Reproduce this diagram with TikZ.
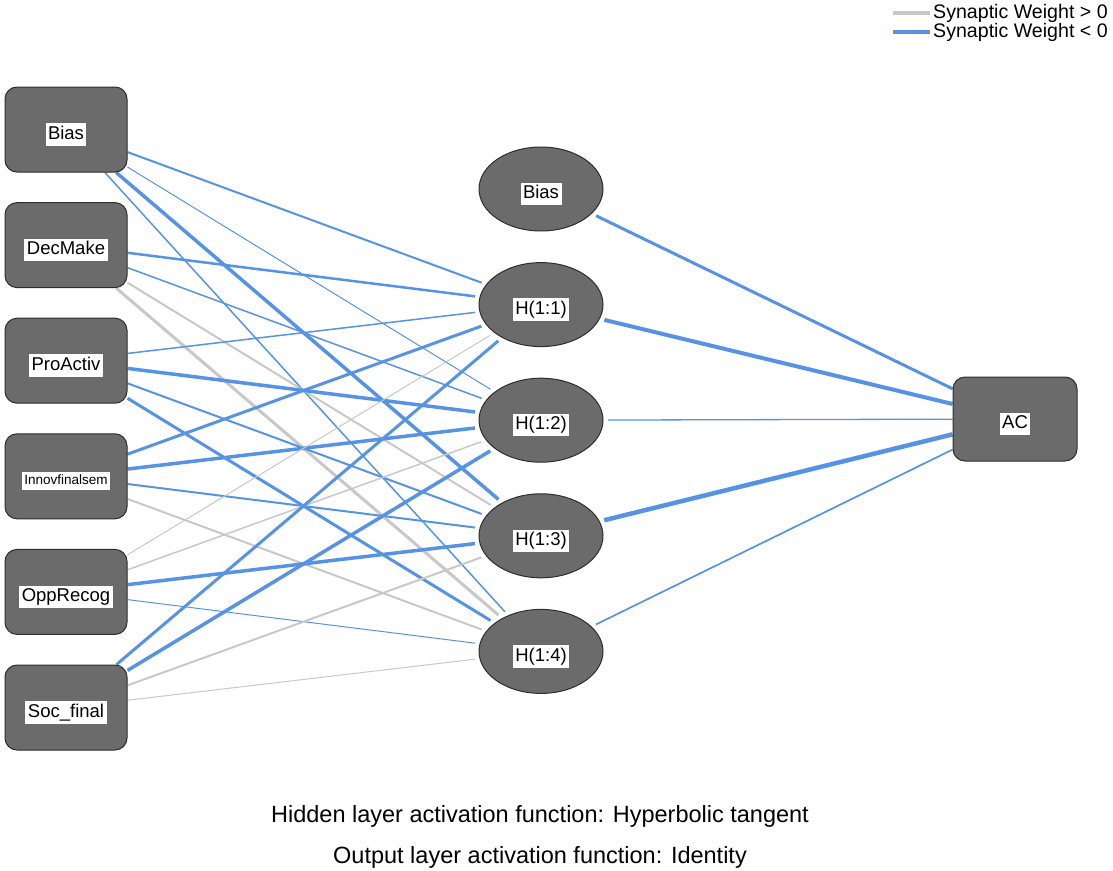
\documentclass[tikz,border=0pt]{standalone}
\usepackage{fontspec}
\setmainfont{Liberation Sans}
\usetikzlibrary{shapes.geometric,backgrounds}

\definecolor{nodefill}{RGB}{107,107,107}
\definecolor{nodeedge}{RGB}{45,45,45}
\definecolor{weightpos}{RGB}{200,200,200}
\definecolor{weightneg}{RGB}{86,147,228}

% white tag around every unit name, balanced around the capitals
\newcommand\unittag[1]{{\setlength{\fboxsep}{2.5pt}\colorbox{white}{\rule[-0.22em]{0pt}{0.94em}#1}}}

\tikzset{
  unitfont/.style={font=\fontsize{18.5}{21}\selectfont, text height=25.9pt, text depth=6.6pt},
  inbox/.style={draw=nodeedge, line width=1pt, fill=nodefill, rounded corners=12pt,
    minimum width=122pt, minimum height=85pt, inner sep=0pt, unitfont},
  hidunit/.style={ellipse, draw=nodeedge, line width=1pt, fill=nodefill,
    minimum width=124pt, minimum height=84pt, inner sep=0pt,
    outer xsep=5pt, outer ysep=5pt, unitfont},
  outbox/.style={inbox, minimum width=124pt, minimum height=84pt},
  posw/.style={draw=weightpos, line width=#1},
  negw/.style={draw=weightneg, line width=#1},
  legendtext/.style={anchor=west, inner sep=0pt, font=\fontsize{19.6}{22}\selectfont},
  notetext/.style={inner sep=0pt, font=\fontsize{23.5}{28}\selectfont},
}

\begin{document}
\begin{tikzpicture}[x=1pt,y=-1pt]
\useasboundingbox (0,0) rectangle (1113,870);

% input layer
\node[inbox] (i0) at (66,129.5) {\unittag{Bias}};
\node[inbox] (i1) at (66,245.1) {\unittag{DecMake}};
\node[inbox] (i2) at (66,360.7) {\unittag{ProActiv}};
\node[inbox, text height=21.2pt, text depth=5.5pt] (i3) at (66,476.3)
  {\fontsize{13.5}{15}\selectfont\unittag{Innovfinalsem}};
\node[inbox] (i4) at (66,591.9) {\unittag{OppRecog}};
\node[inbox] (i5) at (66,707.5) {\unittag{Soc\_final}};

% hidden layer
\node[hidunit] (hb) at (541,189.0) {\unittag{Bias}};
\node[hidunit] (h1) at (541,304.6) {\unittag{H(1:1)}};
\node[hidunit] (h2) at (541,420.2) {\unittag{H(1:2)}};
\node[hidunit] (h3) at (541,535.8) {\unittag{H(1:3)}};
\node[hidunit] (h4) at (541,651.4) {\unittag{H(1:4)}};

% output layer
\node[outbox] (ac) at (1015,419) {\unittag{AC}};

% synaptic weights
\begin{pgfonlayer}{background}
  \draw[negw=2]   (i0) -- (h1);
  \draw[negw=1]   (i0) -- (h2);
  \draw[negw=3.5] (i0) -- (h3);
  \draw[negw=1.5] (i0) -- (h4);

  \draw[negw=2.5] (i1) -- (h1);
  \draw[negw=1.5] (i1) -- (h2);
  \draw[posw=2]   (i1) -- (h3);
  \draw[posw=3]   (i1) -- (h4);

  \draw[negw=1.5] (i2) -- (h1);
  \draw[negw=3.5] (i2) -- (h2);
  \draw[negw=2]   (i2) -- (h3);
  \draw[negw=3]   (i2) -- (h4);

  \draw[negw=3]   (i3) -- (h1);
  \draw[negw=3.5] (i3) -- (h2);
  \draw[negw=2]   (i3) -- (h3);
  \draw[posw=2]   (i3) -- (h4);

  \draw[posw=1]   (i4) -- (h1);
  \draw[posw=1.5] (i4) -- (h2);
  \draw[negw=3.5] (i4) -- (h3);
  \draw[negw=1]   (i4) -- (h4);

  \draw[negw=3]   (i5) -- (h1);
  \draw[negw=3.5] (i5) -- (h2);
  \draw[posw=2]   (i5) -- (h3);
  \draw[posw=1]   (i5) -- (h4);

  \draw[negw=3]   (hb) -- (ac);
  \draw[negw=4]   (h1) -- (ac);
  \draw[negw=1.3] (h2) -- (ac);
  \draw[negw=4.5] (h3) -- (ac);
  \draw[negw=1.7] (h4) -- (ac);
\end{pgfonlayer}

% legend
\coordinate (lgpa) at (893,13);
\coordinate (lgpb) at (930,13);
\coordinate (lgna) at (893,32);
\coordinate (lgnb) at (930,32);
\draw[posw=4] (lgpa) -- (lgpb);
\draw[negw=4] (lgna) -- (lgnb);
\node[legendtext] (lgpt) at (933,13) {Synaptic Weight > 0};
\node[legendtext] (lgnt) at (933,32) {Synaptic Weight < 0};

% activation notes
\node[notetext] (hidnote) at (540,816) {Hidden layer activation function: Hyperbolic tangent};
\node[notetext] (outnote) at (540,857) {Output layer activation function: Identity};
\end{tikzpicture}
\end{document}
